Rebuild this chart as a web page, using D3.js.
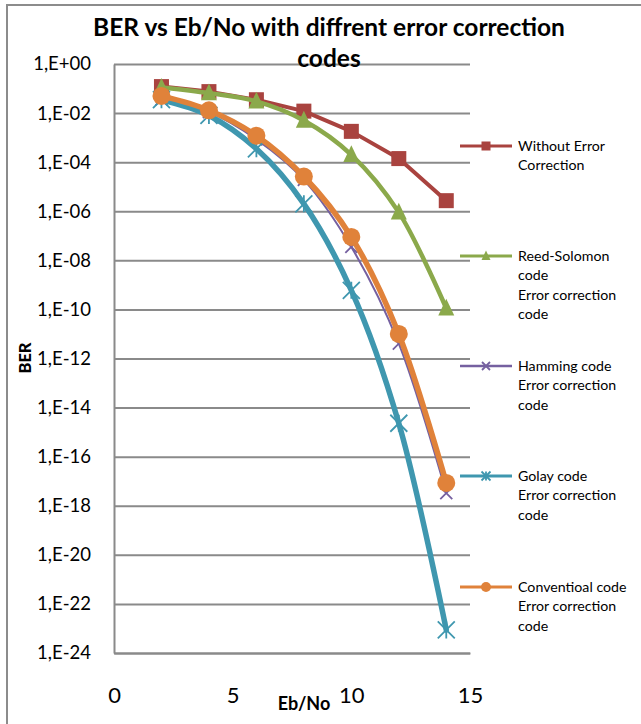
<!DOCTYPE html>
<html>
<head>
<meta charset="utf-8">
<script src="https://cdn.jsdelivr.net/npm/d3@7"></script>
<style>
  html, body { margin: 0; padding: 0; background: #fff; }
  svg { display: block; font-family: Lato, "Open Sans", sans-serif; }
</style>
</head>
<body>
<svg id="chart" width="641" height="724"></svg>
<script>
// ---- data ----
const ebno = [2, 4, 6, 8, 10, 12, 14];
const withoutEC = [0.12, 0.075, 0.035, 0.012, 1.8e-3, 1.4e-4, 2.7e-6];
const reedSolomon = [0.11, 0.065, 0.03, 5e-3, 2e-4, 9e-7, 1.1e-10];
const hamming = [0.036, 0.011, 8.5e-4, 1.9e-5, 3.5e-8, 4e-12, 3.3e-18];
const golay = [0.035, 8e-3, 3.5e-4, 2e-6, 6e-10, 2.3e-15, 8.7e-24];
const conventional = [0.05, 0.013, 1.2e-3, 2.6e-5, 9e-8, 1e-11, 8.5e-18];
const xTicks = [0, 5, 10, 15];
const yTicks = [1e0, 1e-2, 1e-4, 1e-6, 1e-8, 1e-10, 1e-12, 1e-14, 1e-16, 1e-18, 1e-20, 1e-22, 1e-24];
const yTickLabels = ["1,E+00", "1,E-02", "1,E-04", "1,E-06", "1,E-08", "1,E-10", "1,E-12",
                     "1,E-14", "1,E-16", "1,E-18", "1,E-20", "1,E-22", "1,E-24"];
const titleLines = ["BER vs Eb/No with diffrent error correction", "codes"];
const seriesNames = [
  ["Without Error", "Correction"],
  ["Reed-Solomon", "code", "Error correction", "code"],
  ["Hamming code", "Error correction", "code"],
  ["Golay code", "Error correction", "code"],
  ["Conventioal code", "Error correction", "code"]
];

const series = [
  { name: seriesNames[0], values: withoutEC, color: "#A9433F", width: 4, marker: "square", smooth: false },
  { name: seriesNames[1], values: reedSolomon, color: "#8BA94B", width: 4.5, marker: "triangle", smooth: true },
  { name: seriesNames[2], values: hamming, color: "#7560A0", width: 2, marker: "x", smooth: true },
  { name: seriesNames[3], values: golay, color: "#3F97AF", width: 5.5, marker: "star", smooth: true },
  { name: seriesNames[4], values: conventional, color: "#E0823A", width: 5.5, marker: "circle", smooth: true }
];

const svg = d3.select("#chart");
svg.append("rect").attr("width", 641).attr("height", 724).attr("fill", "#fff");

// outer chart border
svg.append("path").attr("d", "M7,724 L7,5 L641,5")
  .attr("fill", "none").attr("stroke", "#8c8c8c").attr("stroke-width", 2);

const plotLeft = 114, plotRight = 470, plotTop = 64, plotBottom = 653;
const x = d3.scaleLinear().domain([0, 15]).range([plotLeft, plotRight]);
const y = d3.scaleLog().domain([1, 1e-24]).range([plotTop, plotBottom]);

// y axis with gridlines
const yAxis = d3.axisLeft(y)
  .tickValues(yTicks)
  .tickFormat((d, i) => yTickLabels[i])
  .tickSizeInner(-(plotRight - plotLeft))
  .tickSizeOuter(0)
  .tickPadding(23);
const gy = svg.append("g").attr("transform", `translate(${plotLeft},0)`).call(yAxis);
gy.select(".domain").attr("stroke", "#8a8a8a").attr("stroke-width", 2);
gy.selectAll(".tick line").attr("stroke", "#8a8a8a").attr("stroke-width", 2);
gy.selectAll(".tick text").attr("font-family", "Lato, sans-serif").attr("font-size", 18.5).attr("fill", "#000");

// x axis
const xAxis = d3.axisBottom(x).tickValues(xTicks).tickFormat(d3.format("d"))
  .tickSizeInner(0).tickSizeOuter(0).tickPadding(34);
const gx = svg.append("g").attr("transform", `translate(0,${plotBottom})`).call(xAxis);
gx.select(".domain").attr("stroke", "#8a8a8a").attr("stroke-width", 2);
gx.selectAll(".tick text").attr("font-family", "Lato, sans-serif").attr("font-size", 22).attr("fill", "#000");

// axis titles
svg.append("text").attr("x", 304).attr("y", 710).attr("text-anchor", "middle")
  .attr("font-size", 18).attr("font-weight", "bold").text("Eb/No");
svg.append("text").attr("transform", "translate(31,358) rotate(-90)").attr("text-anchor", "middle")
  .attr("font-size", 16.5).attr("font-weight", "900").text("BER");

// title
svg.append("text").attr("x", 329).attr("y", 36).attr("text-anchor", "middle")
  .attr("font-size", 24.5).attr("font-weight", "bold").text(titleLines[0]);
svg.append("text").attr("x", 329).attr("y", 67).attr("text-anchor", "middle")
  .attr("font-size", 24.5).attr("font-weight", "bold").text(titleLines[1]);

// markers
function drawMarker(g, type, cx, cy, s, color) {
  if (type === "square") {
    g.append("rect").attr("x", cx - s / 2).attr("y", cy - s / 2).attr("width", s).attr("height", s).attr("fill", color);
  } else if (type === "triangle") {
    const h = s;
    g.append("path").attr("d", `M${cx},${cy - h * 0.6} L${cx + s / 2},${cy + h * 0.45} L${cx - s / 2},${cy + h * 0.45} Z`).attr("fill", color);
  } else if (type === "circle") {
    g.append("circle").attr("cx", cx).attr("cy", cy).attr("r", s / 2).attr("fill", color);
  } else if (type === "x") {
    const r = s / 2;
    g.append("path").attr("d", `M${cx - r},${cy - r} L${cx + r},${cy + r} M${cx - r},${cy + r} L${cx + r},${cy - r}`)
      .attr("stroke", color).attr("stroke-width", 1.8).attr("fill", "none");
  } else if (type === "star") {
    const r = s / 2;
    g.append("path").attr("d", `M${cx - r},${cy - r} L${cx + r},${cy + r} M${cx - r},${cy + r} L${cx + r},${cy - r} M${cx},${cy - r} L${cx},${cy + r}`)
      .attr("stroke", color).attr("stroke-width", 1.8).attr("fill", "none");
  }
}
const markerSize = { square: 15, triangle: 16, circle: 18, x: 12, star: 17 };
const legendMarkerSize = { square: 9, triangle: 9, circle: 10, x: 8, star: 9 };

series.forEach(s => {
  const g = svg.append("g");
  const pts = ebno.map((e, i) => [x(e), y(s.values[i])]);
  const line = d3.line().curve(s.smooth ? d3.curveCatmullRom.alpha(0.5) : d3.curveLinear);
  g.append("path").attr("d", line(pts)).attr("fill", "none").attr("stroke", s.color)
    .attr("stroke-width", s.width).attr("stroke-linejoin", "round").attr("stroke-linecap", "round");
  pts.forEach(p => drawMarker(g, s.marker, p[0], p[1], markerSize[s.marker], s.color));
});

// legend
const legendY = [146, 256, 366, 476, 587];
series.forEach((s, i) => {
  const g = svg.append("g");
  const ly = legendY[i];
  g.append("line").attr("x1", 460).attr("x2", 512).attr("y1", ly).attr("y2", ly)
    .attr("stroke", s.color).attr("stroke-width", s.marker === "x" ? 2.5 : 3);
  drawMarker(g, s.marker, 486, ly, legendMarkerSize[s.marker], s.color);
  const t = g.append("text").attr("x", 518).attr("y", ly + 5).attr("font-size", 14.2).attr("fill", "#000");
  s.name.forEach((ln, j) => {
    t.append("tspan").attr("x", 518).attr("dy", j === 0 ? 0 : 19.4).text(ln);
  });
});
</script>
</body>
</html>
